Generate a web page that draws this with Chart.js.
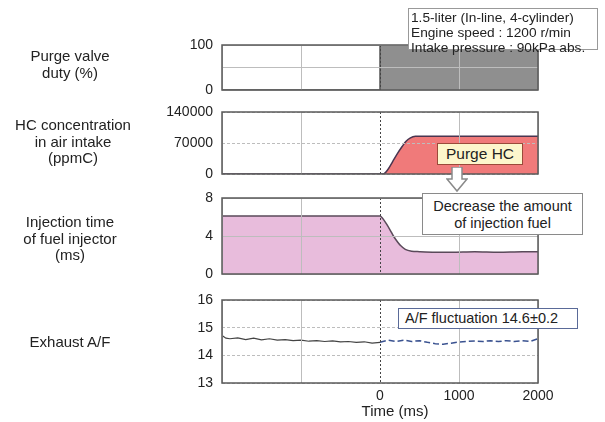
<!DOCTYPE html>
<html>
<head>
<meta charset="utf-8">
<script src="https://cdn.jsdelivr.net/npm/chart.js@4.4.0/dist/chart.umd.min.js"></script>
<style>
  body { margin: 0; background: #fff; font-family: "Liberation Sans", Arial, sans-serif; color: #222; }
  #wrap { position: relative; width: 605px; height: 422px; overflow: hidden; }
  canvas { position: absolute; left: 0; }
  .lbl { position: absolute; width: 150px; text-align: center; font-size: 15px; line-height: 16.5px; }
  .note { position: absolute; background: #fff; border: 1px solid #8a8a8a; font-size: 14px; line-height: 15px; box-sizing: border-box; white-space: nowrap; }
</style>
</head>
<body>
<div id="wrap">
  <canvas id="c1" width="605" height="65" style="top:35px"></canvas>
  <canvas id="c2" width="605" height="82" style="top:102px"></canvas>
  <canvas id="c3" width="605" height="96" style="top:188px"></canvas>
  <canvas id="c4" width="605" height="132" style="top:290px"></canvas>

  <div class="lbl" style="left:-5px;top:48px">Purge valve<br>duty (%)</div>
  <div class="lbl" style="left:-2px;top:117px">HC concentration<br>in air intake<br>(ppmC)</div>
  <div class="lbl" style="left:-5px;top:214px">Injection time<br>of fuel injector<br>(ms)</div>
  <div class="lbl" style="left:-5px;top:334px">Exhaust A/F</div>
  <div class="lbl" style="left:320px;top:403px">Time (ms)</div>

  <div class="note" style="left:408px;top:8px;width:190px;height:42px;padding:1px 0 0 2px;font-size:13.7px;line-height:15px;border:1.5px solid #999">1.5-liter (In-line, 4-cylinder)<br>Engine speed : 1200 r/min<br>Intake pressure : 90kPa abs.</div>
  <div class="note" style="left:437px;top:143px;width:86px;height:22px;background:#fdf6cc;border-color:#9a4a3a;text-align:center;font-size:15.5px;line-height:20px">Purge HC</div>
  <svg style="position:absolute;left:446px;top:167px" width="22" height="26">
    <polygon points="6,0 16,0 16,12 21,12 11,24 1,12 6,12" fill="#fff" stroke="#8a8a8a" stroke-width="1.5"/>
  </svg>
  <div class="note" style="left:422px;top:193px;width:161px;height:42px;text-align:center;padding-top:4px;font-size:14.5px;line-height:17px">Decrease the amount<br>of injection fuel</div>
  <div class="note" style="left:398px;top:308px;width:180px;height:21px;border-color:#5a6a98;padding-left:6px;font-size:14.5px;line-height:18px">A/F fluctuation 14.6±0.2</div>
</div>

<script>
// time axis
const timeTicks = [-2000, -1000, 0, 1000, 2000];

// purge valve duty (%)
const dutyTime = [-2000, 0, 0, 2000];
const dutyValue = [0, 0, 100, 100];
const dutyTicks = [0, 50, 100];
const dutyLabels = ['0', '', '100'];

// HC concentration (ppmC)
const hcTime = [-2000, -1000, 0, 40, 100, 160, 220, 280, 330, 380, 450, 600, 800, 1000, 1200, 1500, 1800, 2000];
const hcValue = [0, 0, 0, 0, 10000, 28000, 46000, 62000, 74000, 81000, 85000, 85500, 85000, 85500, 85000, 85500, 85000, 85000];
const hcTicks = [0, 70000, 140000];
const hcLabels = ['0', '70000', '140000'];

// injection time (ms)
const injTime = [-2000, -1000, 0, 30, 80, 130, 170, 220, 260, 320, 400, 500, 700, 900, 1200, 1500, 1800, 2000];
const injValue = [6.1, 6.1, 6.1, 5.9, 5.3, 4.6, 4.0, 3.4, 3.0, 2.6, 2.4, 2.35, 2.3, 2.3, 2.35, 2.3, 2.35, 2.35];
const injTicks = [0, 4, 8];
const injLabels = ['0', '4', '8'];

// exhaust A/F
const afTimeBefore = [-2000, -1950, -1900, -1800, -1700, -1600, -1500, -1400, -1300, -1200, -1100, -1000, -900, -800, -700, -600, -500, -400, -300, -200, -100, 0];
const afBefore = [14.72, 14.62, 14.6, 14.63, 14.57, 14.62, 14.56, 14.6, 14.55, 14.57, 14.53, 14.55, 14.51, 14.53, 14.5, 14.52, 14.49, 14.5, 14.47, 14.49, 14.44, 14.47];
const afTimeAfter = [0, 100, 200, 300, 400, 500, 600, 700, 800, 900, 1000, 1100, 1200, 1300, 1400, 1500, 1600, 1700, 1800, 1900, 2000];
const afAfter = [14.47, 14.55, 14.5, 14.55, 14.5, 14.53, 14.47, 14.42, 14.4, 14.44, 14.48, 14.5, 14.52, 14.5, 14.53, 14.5, 14.53, 14.5, 14.53, 14.5, 14.6];
const afTicks = [13, 14, 15, 16];
const afLabels = ['13', '14', '15', '16'];

Chart.defaults.font.family = '"Liberation Sans", Arial, sans-serif';
Chart.defaults.color = '#222';
Chart.defaults.animation = false;

function pts(xs, ys) {
  return xs.map((x, i) => ({ x: x, y: ys[i] }));
}

// frame round the plot area
const framePlugin = {
  id: 'frame',
  afterDraw(chart) {
    const a = chart.chartArea;
    const ctx = chart.ctx;
    ctx.save();
    ctx.strokeStyle = '#5a5a5a';
    ctx.lineWidth = 1.5;
    ctx.strokeRect(a.left, a.top, a.right - a.left, a.bottom - a.top);
    ctx.restore();
  }
};

function makePanel(id, datasets, yTicks, yLabels, showX, dashedGrid) {
  const ctx = document.getElementById(id).getContext('2d');
  return new Chart(ctx, {
    type: 'line',
    data: { datasets: datasets },
    plugins: [framePlugin],
    options: {
      responsive: false,
      devicePixelRatio: 1,
      layout: { padding: { top: 10, bottom: showX ? 0 : 10, left: 0, right: 67 } },
      plugins: { legend: { display: false }, tooltip: { enabled: false } },
      elements: { point: { radius: 0 }, line: { tension: 0 } },
      scales: {
        x: {
          type: 'linear',
          min: -2000,
          max: 2000,
          afterBuildTicks: s => { s.ticks = timeTicks.map(v => ({ value: v })); },
          afterFit: s => {
            s.height = showX ? 39 : 0;
            s.paddingLeft = 0;
            s.paddingRight = 0;
          },
          grid: {
            z: 1,
            drawTicks: false,
            color: c => (c.tick && c.tick.value === 0) ? '#444' : '#bdbdbd'
          },
          border: { display: false, dash: c => (c.tick && c.tick.value === 0) ? [2, 2] : [] },
          ticks: {
            display: showX,
            padding: 5,
            font: { size: 14 },
            callback: v => (v >= 0 ? v : '')
          }
        },
        y: {
          min: yTicks[0],
          max: yTicks[yTicks.length - 1],
          afterBuildTicks: s => { s.ticks = yTicks.map(v => ({ value: v })); },
          afterFit: s => {
            s.width = 222;
            s.paddingTop = 0;
            s.paddingBottom = 0;
          },
          grid: { z: 1, drawTicks: false, color: '#bdbdbd' },
          border: { display: false, dash: c => (c.tick && dashedGrid ? [3, 2] : []) },
          ticks: {
            padding: 9,
            font: { size: 14 },
            callback: (v, i) => yLabels[i]
          }
        }
      }
    }
  });
}

makePanel('c1', [{
  data: pts(dutyTime, dutyValue),
  borderColor: '#555',
  borderWidth: 1.5,
  backgroundColor: '#8f8f8f',
  fill: 'origin'
}], dutyTicks, dutyLabels, false, false);

makePanel('c2', [{
  data: pts(hcTime, hcValue),
  borderColor: '#4a3550',
  borderWidth: 1.5,
  backgroundColor: '#f07a7a',
  fill: 'origin',
  cubicInterpolationMode: 'monotone'
}], hcTicks, hcLabels, false, true);

makePanel('c3', [{
  data: pts(injTime, injValue),
  borderColor: '#5a4a5a',
  borderWidth: 1.5,
  backgroundColor: '#e8bcdc',
  fill: 'origin',
  cubicInterpolationMode: 'monotone'
}], injTicks, injLabels, false, false);

makePanel('c4', [{
  data: pts(afTimeBefore, afBefore),
  borderColor: '#444',
  borderWidth: 1.2,
  fill: false
}, {
  data: pts(afTimeAfter, afAfter),
  borderColor: '#3a5290',
  borderWidth: 1.5,
  borderDash: [6, 3],
  fill: false
}], afTicks, afLabels, true, true);
</script>
</body>
</html>
